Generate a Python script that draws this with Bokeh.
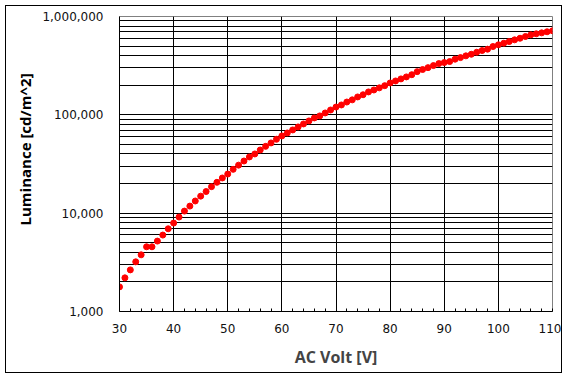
from bokeh.plotting import figure
from bokeh.models import ColumnDataSource, SingleIntervalTicker, LogTicker, NumeralTickFormatter, Range1d, Title
from bokeh.embed import file_html
from bokeh.resources import INLINE

volt = [30, 31, 32, 33, 34, 35, 36, 37, 38, 39,
        40, 41, 42, 43, 44, 45, 46, 47, 48, 49,
        50, 51, 52, 53, 54, 55, 56, 57, 58, 59,
        60, 61, 62, 63, 64, 65, 66, 67, 68, 69,
        70, 71, 72, 73, 74, 75, 76, 77, 78, 79,
        80, 81, 82, 83, 84, 85, 86, 87, 88, 89,
        90, 91, 92, 93, 94, 95, 96, 97, 98, 99,
        100, 101, 102, 103, 104, 105, 106, 107, 108, 109, 110]
luminance = [1780, 2200, 2650, 3200, 3770, 4550, 4550, 5200, 5990, 6940,
             7930, 9130, 10500, 11800, 13300, 14900, 16600, 18600, 20600, 22800,
             25000, 27900, 30800, 33900, 37300, 40000, 43900, 47800, 51800, 56400,
             61000, 65400, 70200, 75300, 80800, 86700, 93000, 97500, 104500, 112000,
             120000, 126000, 135000, 142000, 152000, 160000, 171000, 179000, 188000, 198000,
             211000, 221000, 232000, 243000, 256000, 275000, 289000, 302000, 317000, 332000,
             340000, 348000, 368000, 382000, 398000, 413000, 433000, 451000, 465000, 495000,
             515000, 535000, 556000, 579000, 601000, 626000, 651000, 667000, 682000, 699000, 715000]

x_label = "AC Volt [V]"
y_label = "Luminance [cd/m^2]"

src = ColumnDataSource(dict(v=volt, l=luminance))

p = figure(width=557, height=368, y_axis_type="log",
           x_range=Range1d(30, 110), y_range=Range1d(1000, 1000000),
           output_backend="svg", toolbar_location=None,
           min_border_left=113, min_border_top=10, min_border_right=11, min_border_bottom=63)
p.styles = {"border": "1px solid black", "margin": "5px 0 0 5px"}
p.background_fill_color = "white"
p.border_fill_color = "white"
p.outline_line_color = "#808080"
p.outline_line_width = 1

p.scatter("v", "l", source=src, marker="circle", size=6,
          fill_color="#FF0000", line_color="#FF0000")

# x axis
xa = p.xaxis[0]
xa.ticker = SingleIntervalTicker(interval=10, num_minor_ticks=5)
xa.axis_label = x_label
xa.axis_label_text_font = "Open Sans"
xa.axis_label_text_font_style = "bold"
xa.axis_label_text_font_size = "16px"
xa.axis_label_standoff = 10
xa.major_label_text_font = "DejaVu Sans"
xa.major_label_text_font_size = "12px"
xa.major_label_text_color = "#111111"
xa.major_label_standoff = 12
xa.major_tick_in = 0
xa.major_tick_out = 0
xa.minor_tick_in = 3
xa.minor_tick_out = 0
xa.minor_tick_line_color = "black"
xa.axis_line_color = "black"

# y axis
ya = p.yaxis[0]
ya.ticker = LogTicker(num_minor_ticks=10)
ya.formatter = NumeralTickFormatter(format="0,0")
ya.major_label_text_font = "DejaVu Sans"
ya.major_label_text_font_size = "12px"
ya.major_label_text_color = "#111111"
ya.major_label_standoff = 16
ya.major_tick_in = 0
ya.major_tick_out = 0
ya.minor_tick_in = 0
ya.minor_tick_out = 0
ya.axis_line_color = "black"

ytitle = Title(text=y_label, align="left", offset=86, standoff=10,
               text_font="Open Sans", text_font_style="bold", text_font_size="15px",
               text_color="black")
p.add_layout(ytitle, "left")

p.xgrid.grid_line_color = "black"
p.xgrid.grid_line_width = 1
p.ygrid.grid_line_color = "black"
p.ygrid.minor_grid_line_color = "black"
p.ygrid.grid_line_width = 1
p.ygrid.minor_grid_line_width = 1

open("out.html", "w").write(file_html(p, INLINE))
